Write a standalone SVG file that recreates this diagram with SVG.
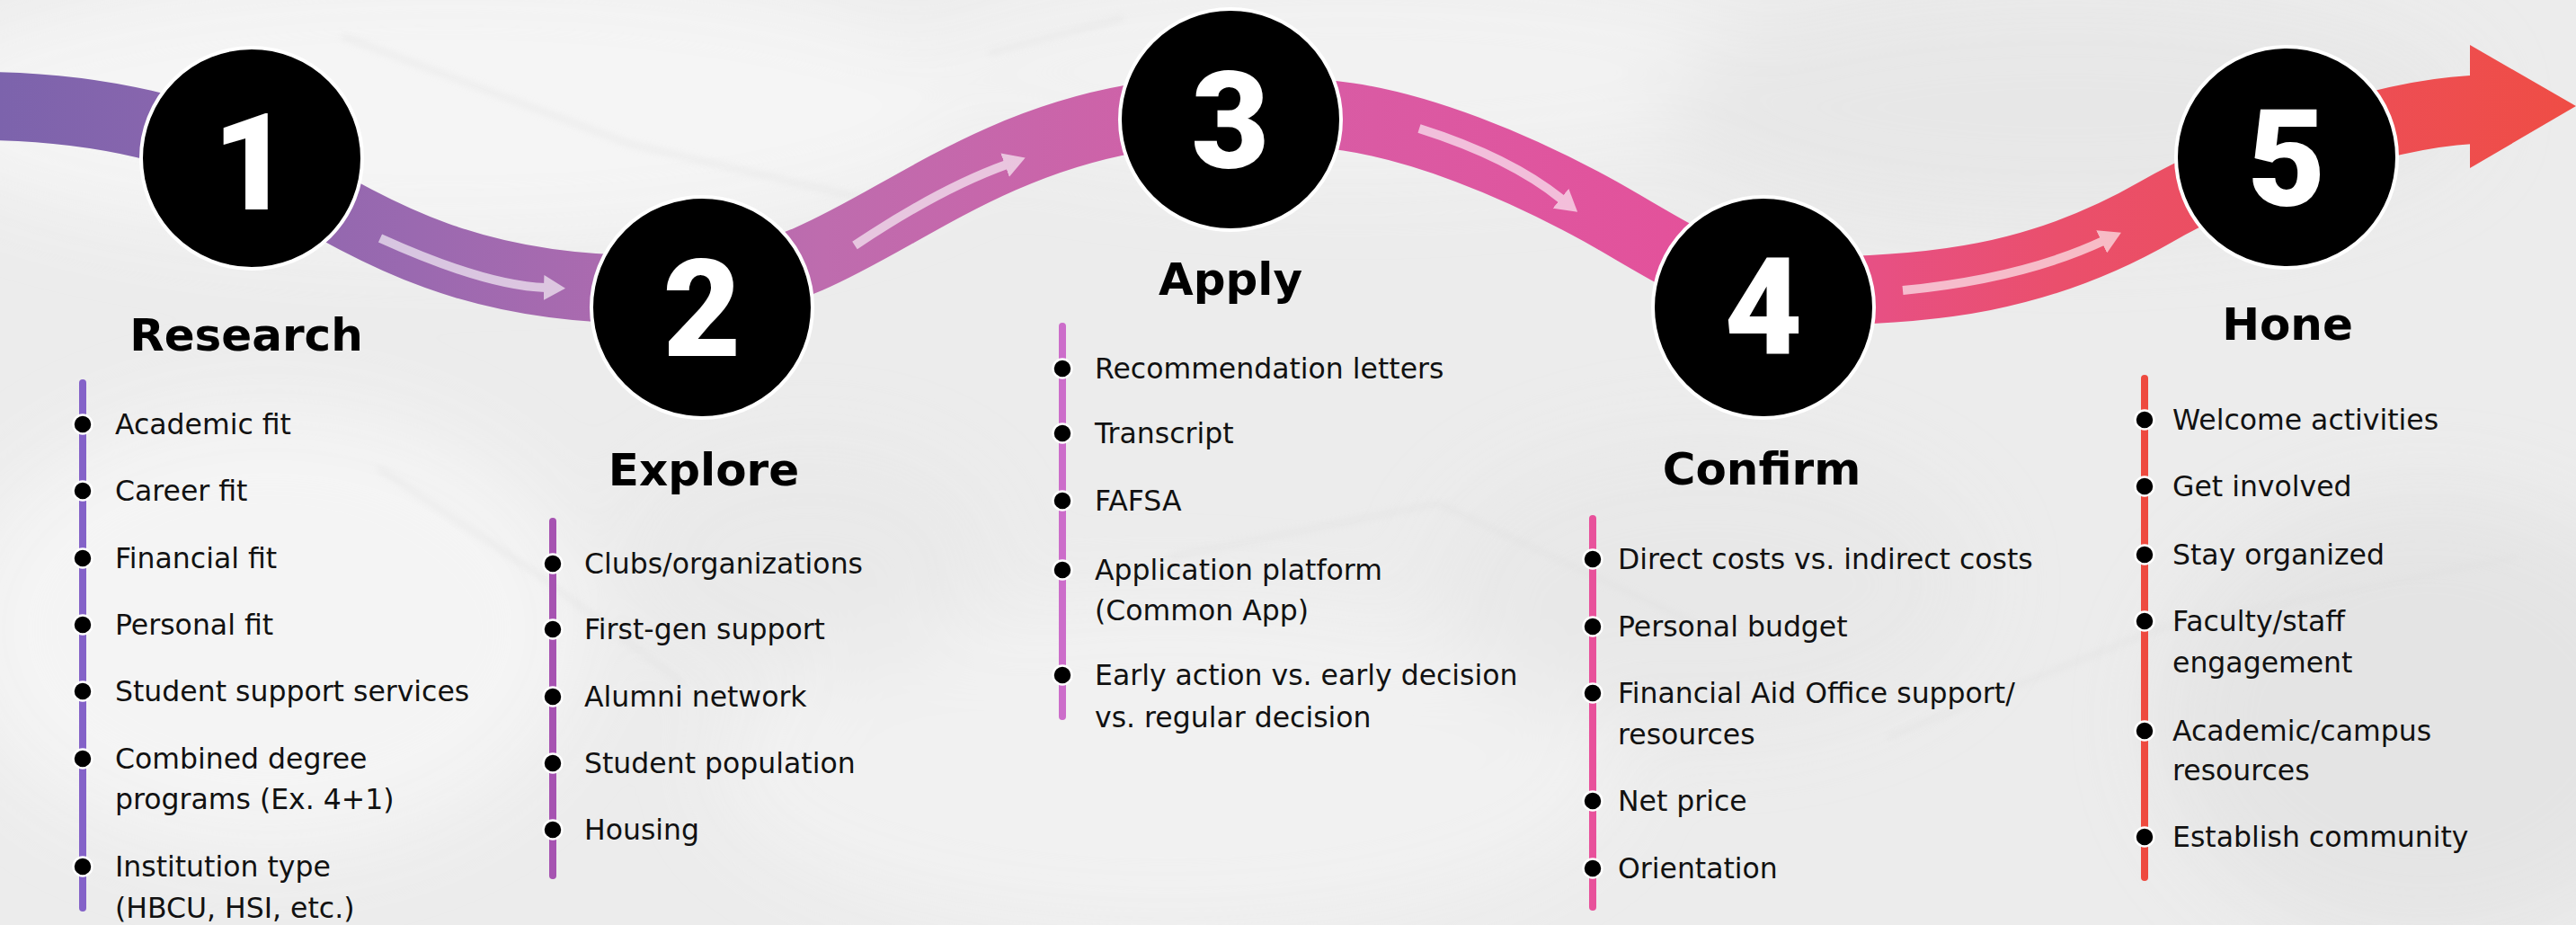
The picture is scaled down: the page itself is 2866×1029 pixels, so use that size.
<svg xmlns="http://www.w3.org/2000/svg" width="2866" height="1029" viewBox="0 0 2866 1029">
<style>
.item{font-family:"DejaVu Sans","Liberation Sans",sans-serif;font-size:31.5px;fill:#111}
.head{font-family:"DejaVu Sans","Liberation Sans",sans-serif;font-size:50px;font-weight:bold;fill:#000;text-anchor:middle}
.num{font-family:Roboto,"Liberation Sans",sans-serif;font-size:150px;font-weight:900;fill:#fff;text-anchor:middle}
.disc{fill:#000;stroke:#fff;stroke-width:4}
.dot{fill:#000;stroke:#fff;stroke-width:2.5}
.rail{stroke-width:8;stroke-linecap:round;fill:none}
.flow{fill:none;stroke:#fff;stroke-width:10}
.crease{fill:none;stroke:#dedede;stroke-width:3}
</style>
<defs>
<linearGradient id="band" x1="0" y1="0" x2="2866" y2="0" gradientUnits="userSpaceOnUse">
<stop offset="0" stop-color="#7c63ac"/>
<stop offset="0.16" stop-color="#9a69b0"/>
<stop offset="0.32" stop-color="#be6cae"/>
<stop offset="0.52" stop-color="#d95ba4"/>
<stop offset="0.66" stop-color="#e4519a"/>
<stop offset="0.8" stop-color="#ea4f6c"/>
<stop offset="1" stop-color="#ef4d45"/>
</linearGradient>
<marker id="hd" viewBox="0 0 24 28" refX="2" refY="14" markerWidth="24" markerHeight="28" markerUnits="userSpaceOnUse" orient="auto">
<path d="M0,0 L24,14 L0,28 Z" fill="#fff"/>
</marker>
<filter id="soft" x="-50%" y="-50%" width="200%" height="200%"><feGaussianBlur stdDeviation="45"/></filter>
<filter id="thin" x="-20%" y="-20%" width="140%" height="140%"><feGaussianBlur stdDeviation="4"/></filter>
</defs>
<g id="background">
<rect width="2866" height="1029" fill="#ececec"/>
<g filter="url(#soft)" opacity="0.9">
<ellipse cx="500" cy="120" rx="600" ry="150" fill="#f6f6f6"/>
<ellipse cx="1500" cy="80" rx="500" ry="110" fill="#f3f3f3"/>
<ellipse cx="300" cy="700" rx="350" ry="250" fill="#f5f5f5"/>
<ellipse cx="1300" cy="850" rx="500" ry="180" fill="#f2f2f2"/>
<ellipse cx="2300" cy="120" rx="450" ry="130" fill="#e7e7e7"/>
<ellipse cx="2700" cy="800" rx="300" ry="250" fill="#e4e4e4"/>
<ellipse cx="1900" cy="650" rx="300" ry="160" fill="#e8e8e8"/>
<ellipse cx="900" cy="620" rx="200" ry="120" fill="#e9e9e9"/>
</g>
<g filter="url(#thin)" opacity="0.8">
<path class="crease" d="M 380,40 L 700,160 L 1000,230"/>
<path class="crease" d="M 420,520 L 600,640 L 760,760"/>
<path class="crease" d="M 1300,620 L 1600,560 L 1900,700"/>
<path class="crease" d="M 2100,820 L 2400,700 L 2800,620"/>
<path class="crease" d="M 1100,60 L 1250,20"/>
</g>
</g>
<g id="connectors">
<path id="road" d="M -10,118 C 110,120 220,145 300,190 C 420,260 520,322 720,322 C 800,322 850,310 900,288 C 1000,245 1100,160 1260,132 C 1350,118 1420,118 1500,130 C 1580,142 1680,180 1780,235 C 1860,280 1920,324 2000,324 C 2150,324 2270,310 2400,235 C 2480,189 2640,128 2750,122" fill="none" stroke="url(#band)" stroke-width="76"/>
<polygon points="2748,50 2866,118 2748,187" fill="url(#band)"/>
<g opacity="0.62">
<path class="flow" d="M 423,265 Q 540,318 607,320" marker-end="url(#hd)"/>
<path class="flow" d="M 951,273 Q 1045,210 1120,183" marker-end="url(#hd)"/>
<path class="flow" d="M 1579,143 Q 1680,175 1738,222" marker-end="url(#hd)"/>
<path class="flow" d="M 2117,323 Q 2250,310 2340,268" marker-end="url(#hd)"/>
</g>
</g>
<g id="step1">
<circle class="disc" cx="280" cy="176" r="123"/>
<text class="num" x="280" y="233">1</text>
<text class="head" x="274" y="390">Research</text>
<line class="rail" x1="92" y1="426" x2="92" y2="1010" stroke="#8462c8"/>
<circle class="dot" cx="92" cy="472" r="10.5"/>
<circle class="dot" cx="92" cy="546" r="10.5"/>
<circle class="dot" cx="92" cy="621" r="10.5"/>
<circle class="dot" cx="92" cy="695" r="10.5"/>
<circle class="dot" cx="92" cy="769" r="10.5"/>
<circle class="dot" cx="92" cy="844" r="10.5"/>
<circle class="dot" cx="92" cy="964" r="10.5"/>
<text class="item" x="128" y="483">Academic fit</text>
<text class="item" x="128" y="557">Career fit</text>
<text class="item" x="128" y="632">Financial fit</text>
<text class="item" x="128" y="706">Personal fit</text>
<text class="item" x="128" y="780">Student support services</text>
<text class="item" x="128" y="855">Combined degree</text>
<text class="item" x="128" y="900">programs (Ex. 4+1)</text>
<text class="item" x="128" y="975">Institution type</text>
<text class="item" x="128" y="1021">(HBCU, HSI, etc.)</text>
</g>
<g id="step2">
<circle class="disc" cx="781" cy="342" r="123"/>
<text class="num" x="781" y="396">2</text>
<text class="head" x="783" y="540">Explore</text>
<line class="rail" x1="615" y1="580" x2="615" y2="974" stroke="#a653b1"/>
<circle class="dot" cx="615" cy="627" r="10.5"/>
<circle class="dot" cx="615" cy="700" r="10.5"/>
<circle class="dot" cx="615" cy="775" r="10.5"/>
<circle class="dot" cx="615" cy="849" r="10.5"/>
<circle class="dot" cx="615" cy="923" r="10.5"/>
<text class="item" x="650" y="638">Clubs/organizations</text>
<text class="item" x="650" y="711">First-gen support</text>
<text class="item" x="650" y="786">Alumni network</text>
<text class="item" x="650" y="860">Student population</text>
<text class="item" x="650" y="934">Housing</text>
</g>
<g id="step3">
<circle class="disc" cx="1369" cy="133" r="123"/>
<text class="num" x="1369" y="187">3</text>
<text class="head" x="1369" y="328">Apply</text>
<line class="rail" x1="1182" y1="363" x2="1182" y2="797" stroke="#cc6dca"/>
<circle class="dot" cx="1182" cy="410" r="10.5"/>
<circle class="dot" cx="1182" cy="482" r="10.5"/>
<circle class="dot" cx="1182" cy="557" r="10.5"/>
<circle class="dot" cx="1182" cy="634" r="10.5"/>
<circle class="dot" cx="1182" cy="751" r="10.5"/>
<text class="item" x="1218" y="421">Recommendation letters</text>
<text class="item" x="1218" y="493">Transcript</text>
<text class="item" x="1218" y="568">FAFSA</text>
<text class="item" x="1218" y="645">Application platform</text>
<text class="item" x="1218" y="690">(Common App)</text>
<text class="item" x="1218" y="762">Early action vs. early decision</text>
<text class="item" x="1218" y="809">vs. regular decision</text>
</g>
<g id="step4">
<circle class="disc" cx="1962" cy="342" r="123"/>
<text class="num" x="1962" y="394">4</text>
<text class="head" x="1960" y="539">Confirm</text>
<line class="rail" x1="1772" y1="577" x2="1772" y2="1009" stroke="#e8519b"/>
<circle class="dot" cx="1772" cy="622" r="10.5"/>
<circle class="dot" cx="1772" cy="697" r="10.5"/>
<circle class="dot" cx="1772" cy="771" r="10.5"/>
<circle class="dot" cx="1772" cy="891" r="10.5"/>
<circle class="dot" cx="1772" cy="966" r="10.5"/>
<text class="item" x="1800" y="633">Direct costs vs. indirect costs</text>
<text class="item" x="1800" y="708">Personal budget</text>
<text class="item" x="1800" y="782">Financial Aid Office support/</text>
<text class="item" x="1800" y="828">resources</text>
<text class="item" x="1800" y="902">Net price</text>
<text class="item" x="1800" y="977">Orientation</text>
</g>
<g id="step5">
<circle class="disc" cx="2544" cy="175" r="123"/>
<text class="num" x="2544" y="229">5</text>
<text class="head" x="2545" y="378">Hone</text>
<line class="rail" x1="2386" y1="421" x2="2386" y2="976" stroke="#ee4a3f"/>
<circle class="dot" cx="2386" cy="467" r="10.5"/>
<circle class="dot" cx="2386" cy="541" r="10.5"/>
<circle class="dot" cx="2386" cy="617" r="10.5"/>
<circle class="dot" cx="2386" cy="691" r="10.5"/>
<circle class="dot" cx="2386" cy="813" r="10.5"/>
<circle class="dot" cx="2386" cy="931" r="10.5"/>
<text class="item" x="2417" y="478">Welcome activities</text>
<text class="item" x="2417" y="552">Get involved</text>
<text class="item" x="2417" y="628">Stay organized</text>
<text class="item" x="2417" y="702">Faculty/staff</text>
<text class="item" x="2417" y="748">engagement</text>
<text class="item" x="2417" y="824">Academic/campus</text>
<text class="item" x="2417" y="868">resources</text>
<text class="item" x="2417" y="942">Establish community</text>
</g>
</svg>
